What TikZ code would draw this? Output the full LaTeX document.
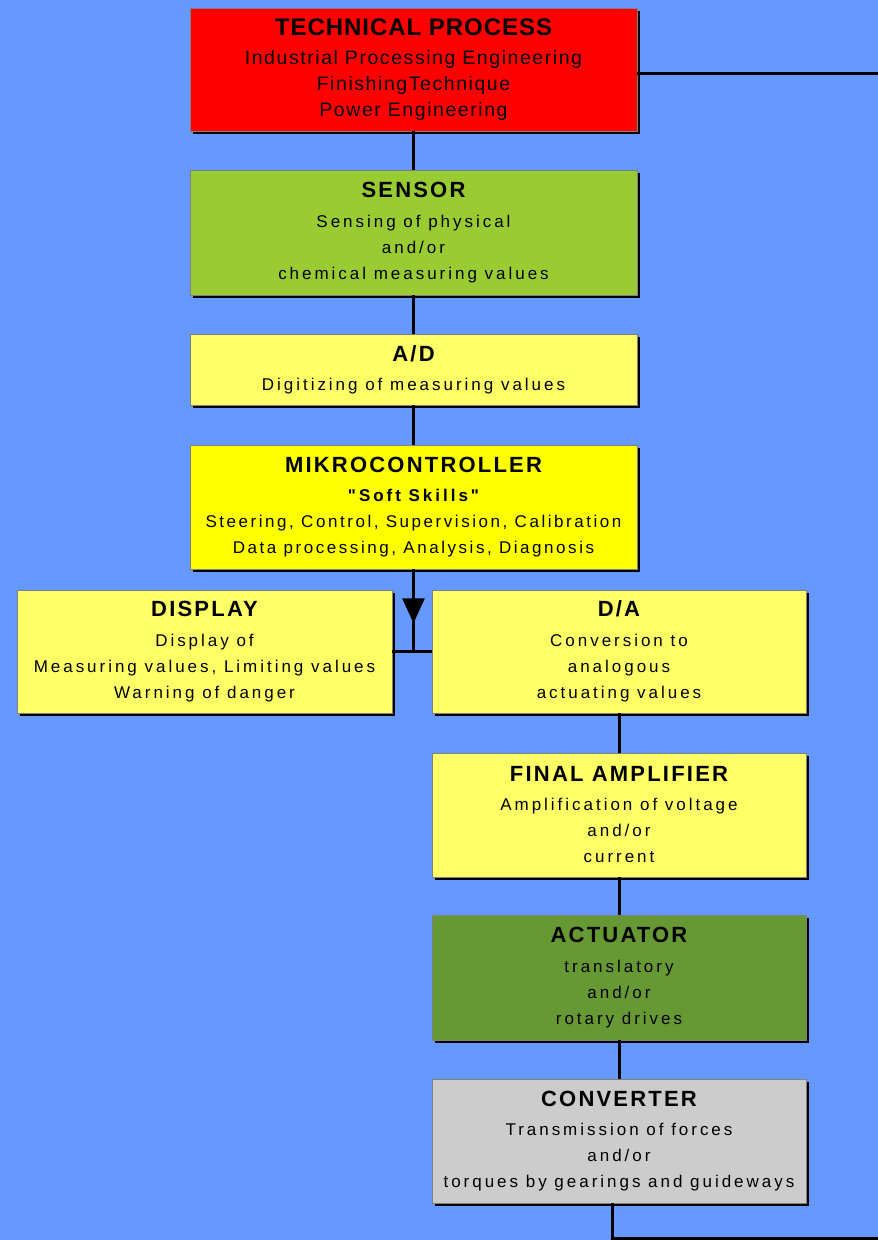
\documentclass[tikz,border=0pt]{standalone}
\usepackage{fontspec}
\setmainfont{Liberation Sans}
\newfontfamily\bodyfont[LetterSpace=17.5]{Liberation Sans}
\newfontfamily\mikrofont[LetterSpace=15]{Liberation Sans}
\newfontfamily\headfont[LetterSpace=10]{Liberation Sans}
\newfontfamily\techfont[LetterSpace=8]{Liberation Sans}
\newfontfamily\techhead[LetterSpace=4]{Liberation Sans}
\usetikzlibrary{shadows,arrows.meta,decorations.markings}
\definecolor{bg}{HTML}{6699FF}
\definecolor{techred}{HTML}{FF0000}
\definecolor{sensgreen}{HTML}{99CC33}
\definecolor{lightyel}{HTML}{FFFF66}
\definecolor{mikroyel}{HTML}{FFFF00}
\definecolor{actgreen}{HTML}{669933}
\definecolor{convgray}{HTML}{CCCCCC}
\newcommand{\boxtitle}[1]{{\headfont\bfseries\fontsize{22}{26}\selectfont #1}}
\begin{document}
\begin{tikzpicture}[x=1pt,y=-1pt,
  blk/.style={draw=gray, line width=0.8pt,
    drop shadow={shadow xshift=3pt,shadow yshift=-3pt,fill=black,opacity=1},
    align=center, inner sep=0pt, font=\bodyfont\fontsize{17}{26}\selectfont},
  wide/.style={blk, minimum width=447pt, minimum height=#1},
  narrow/.style={blk, minimum width=374pt, minimum height=#1},
  conn/.style={line width=3pt, draw=black}]
\fill[bg] (0,0) rectangle (878,1240);
\useasboundingbox (0,0) rectangle (878,1240);

\coordinate (r1) at (878,73);
\coordinate (j) at (413.5,651);
\coordinate (c1) at (878,1238);

\node[wide=123pt, fill=techred, font=\techfont\fontsize{19.5}{26}\selectfont] (tech) at (413.5,69.5)
  {{\techhead\bfseries\fontsize{24}{26}\selectfont TECHNICAL PROCESS}\\[3pt]
   Industrial Processing Engineering\\ FinishingTechnique\\ Power Engineering};
\node[wide=125pt, fill=sensgreen] (sensor) at (413.5,232.5)
  {\boxtitle{SENSOR}\\[4pt] Sensing of physical\\ and/or\\ chemical measuring values};
\node[wide=71pt, fill=lightyel] (ad) at (413.5,369.5)
  {\boxtitle{A/D}\\[3pt] Digitizing of measuring values};
\node[wide=124pt, fill=mikroyel, font=\mikrofont\fontsize{17}{26}\selectfont] (mikro) at (413.5,507)
  {\boxtitle{MIKROCONTROLLER}\\[3pt] {\bodyfont\bfseries "Soft Skills"}\\ Steering, Control, Supervision, Calibration\\ Data processing, Analysis, Diagnosis};
\node[blk, minimum width=375pt, minimum height=123pt, fill=lightyel] (display) at (204.5,651.5)
  {\boxtitle{DISPLAY}\\[4pt] Display of\\ Measuring values, Limiting values\\ Warning of danger};
\node[narrow=123pt, fill=lightyel] (da) at (619,651.5)
  {\boxtitle{D/A}\\[4pt] Conversion to\\ analogous\\ actuating values};
\node[narrow=124pt, fill=lightyel] (final) at (619,815)
  {\boxtitle{FINAL AMPLIFIER}\\[3pt] Amplification of voltage\\ and/or\\ current};
\node[narrow=125pt, fill=actgreen] (act) at (619,977.5)
  {\boxtitle{ACTUATOR}\\[4pt] translatory\\ and/or\\ rotary drives};
\node[narrow=124pt, fill=convgray] (conv) at (619,1141)
  {\boxtitle{CONVERTER}\\[3pt] Transmission of forces\\ and/or\\ torques by gearings and guideways};

\draw[conn] (tech.east |- r1) -- (r1);
\draw[conn] (tech.south) -- (sensor.north);
\draw[conn] (sensor.south) -- (ad.north);
\draw[conn] (ad.south) -- (mikro.north);
\draw[conn, postaction={decorate}, decoration={markings,
   mark=at position 0.66 with {\arrow{Triangle[width=22pt,length=25pt]}}}]
   (mikro.south) -- (j);
\draw[conn] (display.east |- j) -- (da.west |- j);
\draw[conn] (da.south) -- (final.north);
\draw[conn] (final.south) -- (act.north);
\draw[conn] (act.south) -- (conv.north);
\draw[conn] ([xshift=-7pt]conv.south) |- (c1);
\end{tikzpicture}
\end{document}
